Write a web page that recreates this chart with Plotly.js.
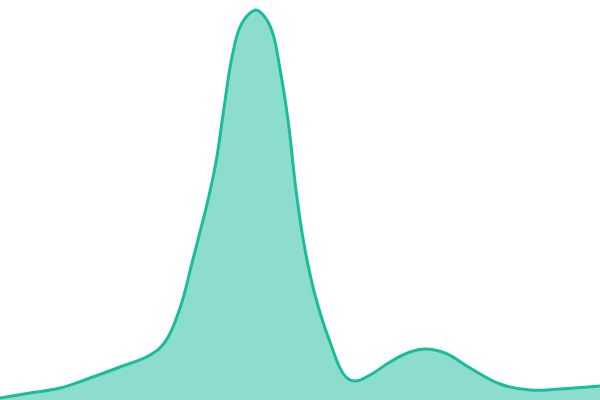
<!DOCTYPE html>
<html><head><meta charset="utf-8">
<script src="https://cdn.plot.ly/plotly-3.0.1.min.js"></script>
<style>html,body{margin:0;padding:0;background:#fff}#chart{width:600px;height:400px}</style>
</head><body><div id="chart"></div>
<script>
const xs = [0,30,60,90,120,150,165,180,192,200,208,216,224,232,240,248,256,264,272,280,288,296,304,315,330,345,355,370,390,410,425,445,470,500,530,560,600];
const ys = [2,7,12,22,33,45,58,92,137,168,200,238,292,343,373,385,390,384,369,331,280,210,156,105,58,24,19,25,38,48,51,47,32,16,10,11,14];
Plotly.newPlot('chart', [{
  x: xs, y: ys, type: 'scatter', mode: 'lines',
  line: {color: '#1abc9c', width: 3, shape: 'spline', smoothing: 1.2},
  fill: 'tozeroy', fillcolor: 'rgba(26,188,156,0.5)', hoverinfo: 'none'
}], {
  width: 600, height: 400, margin: {l:0, r:0, t:0, b:0},
  paper_bgcolor: '#fff', plot_bgcolor: '#fff', showlegend: false,
  xaxis: {range: [0,600], visible: false, fixedrange: true},
  yaxis: {range: [0,400], visible: false, fixedrange: true}
}, {displayModeBar: false, staticPlot: true});
</script></body></html>
